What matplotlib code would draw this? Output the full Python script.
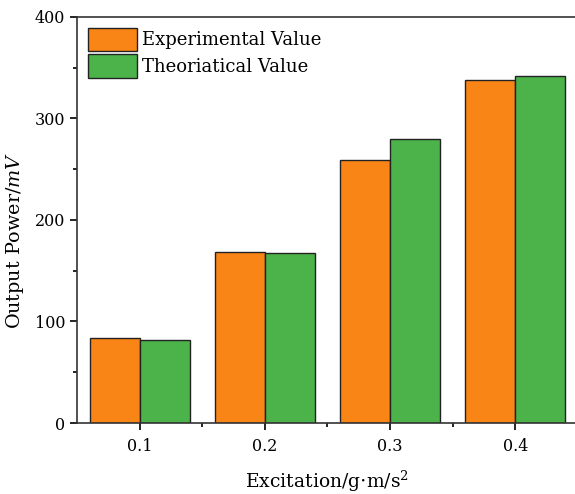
import numpy as np
import matplotlib
matplotlib.use('Agg')
import matplotlib.pyplot as plt
from matplotlib.ticker import MultipleLocator, FixedLocator

excitation = [0.1, 0.2, 0.3, 0.4]
tick_labels = ['0.1', '0.2', '0.3', '0.4']
experimental = [83.5, 168.5, 259, 338]
theoretical = [82, 167.5, 280, 342]

plt.rcParams['font.family'] = 'DejaVu Serif'
plt.rcParams['mathtext.fontset'] = 'dejavuserif'


def bar_chart():
    fig = plt.figure(figsize=(5.75, 4.94), dpi=100)
    ax = fig.add_axes([0.134, 0.1437, 0.871, 0.822])
    x = np.array(excitation)
    w = 0.04
    ax.bar(x - w / 2, experimental, w, color='#f98517', edgecolor='#222222',
           linewidth=1.0, label='Experimental Value')
    ax.bar(x + w / 2, theoretical, w, color='#4bb34a', edgecolor='#222222',
           linewidth=1.0, label='Theoriatical Value')

    ax.set_xlim(0.05, 0.45)
    ax.set_ylim(0, 400)
    ax.set_xticks(excitation)
    ax.set_xticklabels(tick_labels)
    ax.xaxis.set_minor_locator(FixedLocator([0.15, 0.25, 0.35]))
    ax.yaxis.set_major_locator(MultipleLocator(100))
    ax.yaxis.set_minor_locator(MultipleLocator(50))
    ax.tick_params(which='major', direction='out', length=5, width=1.2, labelsize=11.5)
    ax.tick_params(axis='x', which='major', pad=6)
    ax.tick_params(which='minor', direction='out', length=3, width=1.2)
    for s in ['left', 'bottom', 'top']:
        ax.spines[s].set_linewidth(1.2)
        ax.spines[s].set_color('#333333')
    ax.spines['right'].set_visible(False)

    ax.set_xlabel('Excitation/g$\\cdot$m/s$^2$', fontsize=13.5, labelpad=10)
    ax.set_ylabel('Output Power/$mV$', fontsize=13.8)
    ax.yaxis.set_label_coords(-0.102, 0.45)

    ax.legend(loc='upper left', frameon=False, fontsize=13,
              handlelength=2.7, handleheight=1.63, labelspacing=0.15,
              handletextpad=0.3, borderaxespad=0.3, borderpad=0.3)
    fig.savefig('out.png', dpi=100)


if __name__ == '__main__':
    bar_chart()
